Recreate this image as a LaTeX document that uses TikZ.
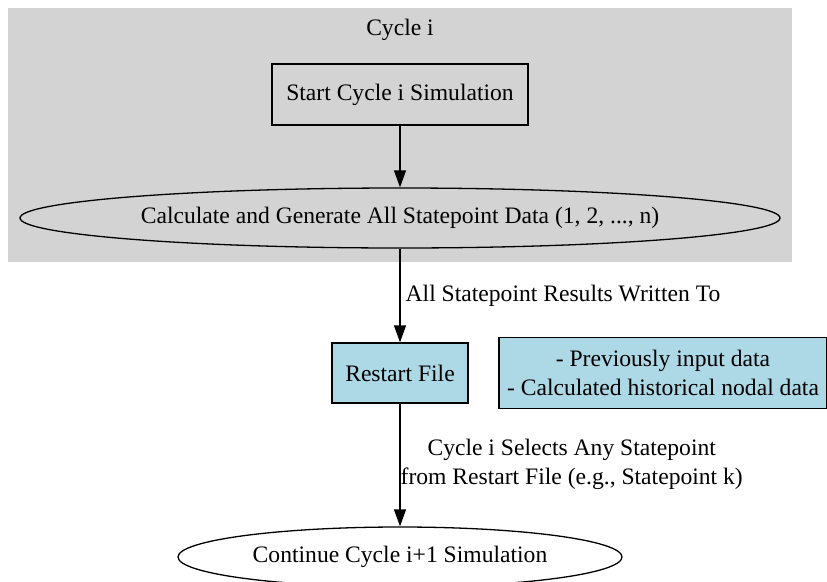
\documentclass[tikz,border=0pt]{standalone}
\usepackage{fontspec}
\setmainfont{Liberation Serif}
\usetikzlibrary{arrows.meta,positioning,shapes.geometric}
\definecolor{clustergray}{HTML}{D3D3D3}
\definecolor{fileblue}{HTML}{ADD8E6}

\begin{document}
\begin{tikzpicture}[
  x=1pt, y=-1pt,
  font=\fontsize{23.6}{29}\selectfont,
  stepbox/.style={draw, line width=1.3pt, inner sep=0pt, minimum height=61pt, align=center},
  oval/.style={draw, ellipse, line width=1.3pt, inner sep=0pt, minimum height=60pt},
  flow/.style={-{Triangle[length=17pt,width=12pt]}, line width=1.3pt},
  lbl/.style={inner sep=0pt, align=center}
]
\clip (0,0) rectangle (827,581);
\fill[white] (0,0) rectangle (827,581);
% cluster for cycle i
\fill[clustergray] (8,8) rectangle (792,262);
\node[lbl] (title) at (400,29.5) {Cycle i};
\node[stepbox, minimum width=256pt] (start) at (400,94.5) {Start Cycle i Simulation};
\node[oval, minimum width=760pt] (gen) at (400,218) {Calculate and Generate All Statepoint Data (1, 2, ..., n)};

\node[stepbox, fill=fileblue, minimum width=136pt, minimum height=60pt] (restart) at (400,373) {Restart File};
\node[stepbox, fill=fileblue, minimum width=328pt, minimum height=71pt] (notes) at (663,373) {- Previously input data\\- Calculated historical nodal data};
\node[oval, fill=white, minimum width=444pt] (cont) at (400,557) {Continue Cycle i+1 Simulation};

\draw[flow] (start) -- (gen);
\draw[flow] (gen) -- node[lbl, right, xshift=5pt] {All Statepoint Results Written To} (restart);
\draw[flow] (restart) -- node[lbl, right, yshift=1pt] {Cycle i Selects Any Statepoint\\from Restart File (e.g., Statepoint k)} (cont);
\end{tikzpicture}
\end{document}
